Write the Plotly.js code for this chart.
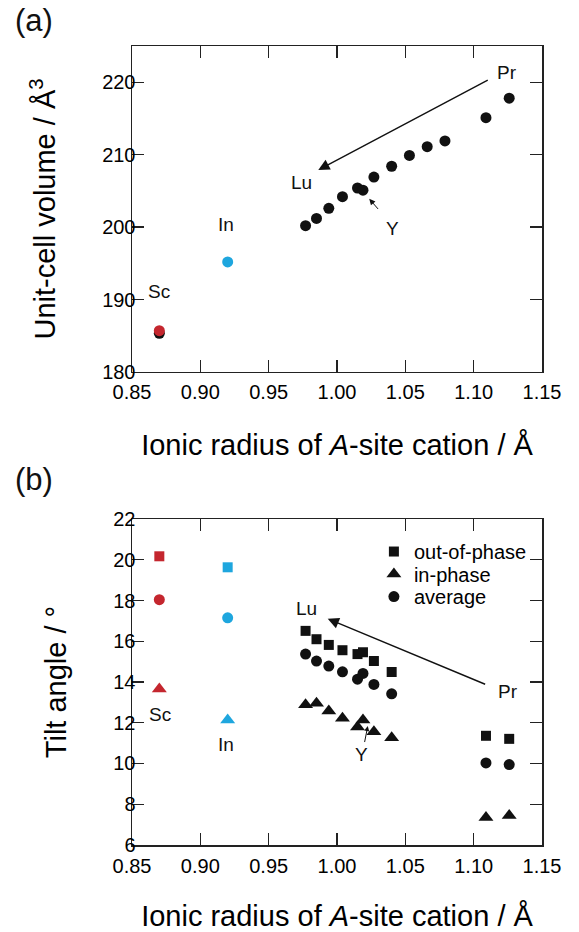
<!DOCTYPE html>
<html>
<head>
<meta charset="utf-8">
<script src="https://cdn.plot.ly/plotly-3.0.1.min.js"></script>
<style>html,body{margin:0;padding:0;background:#fff;}#chart{width:579px;height:932px;}</style>
</head>
<body>
<div id="chart"></div>
<script>
// ---------- Panel (a): unit-cell volume ----------
var lnRadiusA = [0.977, 0.985, 0.994, 1.004, 1.015, 1.019, 1.027, 1.040, 1.053, 1.066, 1.079, 1.109, 1.126];
var lnVolume  = [200.2, 201.2, 202.6, 204.2, 205.4, 205.1, 206.9, 208.4, 209.9, 211.1, 211.9, 215.1, 217.8];
var scRadius = [0.87];
var scVolumeBlack = [185.35];
var scVolumeRed = [185.7];
var inRadius = [0.92];
var inVolume = [195.2];

// ---------- Panel (b): tilt angles ----------
var lnRadiusB = [0.977, 0.985, 0.994, 1.004, 1.015, 1.019, 1.027, 1.040, 1.109, 1.126];
var outOfPhase = [16.51, 16.10, 15.82, 15.56, 15.37, 15.46, 15.03, 14.49, 11.36, 11.21];
var inPhase    = [12.88, 12.96, 12.58, 12.22, 11.79, 12.14, 11.56, 11.27, 7.35, 7.45];
var average    = [15.37, 15.03, 14.78, 14.50, 14.14, 14.42, 13.88, 13.42, 10.03, 9.95];
var scOut = [20.17], scIn = [13.66], scAvg = [18.04];
var inOut = [19.63], inIn = [12.14], inAvg = [17.15];

var xTicks = [0.85, 0.90, 0.95, 1.00, 1.05, 1.10, 1.15];
var yTicksA = [180, 190, 200, 210, 220];
var yTicksB = [6, 8, 10, 12, 14, 16, 18, 20, 22];

var BLACK = '#111111', RED = '#c4262e', BLUE = '#1ea6de';
var FONT = 'Liberation Sans, Arial, Helvetica, sans-serif';

function pt(x, y, sym, color, size, xa, ya, name, legendId) {
  var t = {x: x, y: y, mode: 'markers', type: 'scatter', xaxis: xa, yaxis: ya,
    name: name || '', showlegend: !!legendId,
    marker: {symbol: sym, color: color, size: size, line: {width: 0}},
    hoverinfo: 'x+y'};
  if (legendId) t.legend = legendId;
  return t;
}

var data = [
  pt(lnRadiusA, lnVolume, 'circle', BLACK, 11, 'x', 'y'),
  pt(scRadius, scVolumeBlack, 'circle', BLACK, 11, 'x', 'y'),
  pt(scRadius, scVolumeRed, 'circle', RED, 11, 'x', 'y'),
  pt(inRadius, inVolume, 'circle', BLUE, 11, 'x', 'y'),

  pt(lnRadiusB, outOfPhase, 'square', BLACK, 10, 'x2', 'y2', 'out-of-phase', 'legend'),
  pt(lnRadiusB, inPhase, 'triangle-up', BLACK, 13, 'x2', 'y2', 'in-phase', 'legend2'),
  pt(lnRadiusB, average, 'circle', BLACK, 11, 'x2', 'y2', 'average', 'legend3'),
  pt(scRadius, scOut, 'square', RED, 10, 'x2', 'y2'),
  pt(scRadius, scIn, 'triangle-up', RED, 13, 'x2', 'y2'),
  pt(scRadius, scAvg, 'circle', RED, 11, 'x2', 'y2'),
  pt(inRadius, inOut, 'square', BLUE, 10, 'x2', 'y2'),
  pt(inRadius, inIn, 'triangle-up', BLUE, 13, 'x2', 'y2'),
  pt(inRadius, inAvg, 'circle', BLUE, 11, 'x2', 'y2')
];

var xTitle = 'Ionic radius of <i>A</i>-site cation / Å';

function xAxis(anchor) {
  return {anchor: anchor, range: [0.85, 1.15], tickvals: xTicks, tickformat: '.2f',
    ticks: 'inside', ticklen: 12, tickwidth: 1.4, tickcolor: '#222',
    showline: true, linecolor: '#222', linewidth: 1.5, mirror: 'ticks',
    showgrid: false, zeroline: false, ticklabelstandoff: 2,
    tickfont: {family: FONT, size: 20, color: '#000'},
    title: {text: xTitle, font: {family: FONT, size: 29, color: '#000'}, standoff: 32}};
}
function yAxis(anchor, range, ticks, title, domain) {
  return {anchor: anchor, range: range, tickvals: ticks, domain: domain,
    ticks: 'inside', ticklen: 12, tickwidth: 1.4, tickcolor: '#222',
    showline: true, linecolor: '#222', linewidth: 1.5, mirror: 'ticks',
    showgrid: false, zeroline: false, ticklabelstandoff: -9,
    tickfont: {family: FONT, size: 20, color: '#000'},
    title: {text: title, font: {family: FONT, size: 29, color: '#000'}, standoff: 38}};
}

function label(text, x, y, xr, yr) {
  return {text: text, x: x, y: y, xref: xr, yref: yr, showarrow: false,
    font: {family: FONT, size: 19, color: '#111'}, xanchor: 'center', yanchor: 'middle'};
}
function arrow(hx, hy, tx, ty, xr, yr, size, width) {
  return {text: '', x: hx, y: hy, ax: tx, ay: ty, xref: xr, yref: yr, axref: xr, ayref: yr,
    showarrow: true, arrowhead: 2, arrowsize: size, arrowwidth: width, arrowcolor: '#111', standoff: 0, startstandoff: 0};
}
function legendBox(y) {
  return {x: 0.59, y: y, xanchor: 'left', yanchor: 'top', bgcolor: 'rgba(0,0,0,0)',
    font: {family: FONT, size: 20, color: '#000'}};
}

var layout = {
  width: 579, height: 932,
  margin: {l: 132, r: 37, t: 46, b: 87},
  paper_bgcolor: '#fff', plot_bgcolor: '#fff',
  font: {family: FONT, color: '#000'},
  xaxis: xAxis('y'),
  yaxis: yAxis('x', [180, 225], yTicksA, 'Unit-cell volume / Å<sup>3</sup>', [0.592, 1]),
  xaxis2: xAxis('y2'),
  yaxis2: yAxis('x2', [6, 22], yTicksB, 'Tilt angle / °', [0, 0.408]),
  showlegend: true,
  legend: legendBox(0.3917),
  legend2: legendBox(0.3636),
  legend3: legendBox(0.3354),
  annotations: [
    {text: '(a)', x: -0.239, y: 1.0325, xref: 'paper', yref: 'paper', showarrow: false,
      font: {family: FONT, size: 31, color: '#111'}, xanchor: 'center', yanchor: 'middle'},
    {text: '(b)', x: -0.239, y: 0.457, xref: 'paper', yref: 'paper', showarrow: false,
      font: {family: FONT, size: 31, color: '#111'}, xanchor: 'center', yanchor: 'middle'},
    label('Pr', 1.1242, 221.4, 'x', 'y'),
    label('Lu', 0.9739, 206.2, 'x', 'y'),
    label('Y', 1.0408, 199.8, 'x', 'y'),
    label('In', 0.9188, 200.4, 'x', 'y'),
    label('Sc', 0.870, 191.1, 'x', 'y'),
    arrow(0.9863, 207.9, 1.1114, 220.4, 'x', 'y', 1.6, 1.4),
    arrow(1.0236, 203.9, 1.031, 202.3, 'x', 'y', 1.2, 1),
    label('Lu', 0.9778, 17.63, 'x2', 'y2'),
    label('Pr', 1.1254, 13.51, 'x2', 'y2'),
    label('Sc', 0.8705, 12.41, 'x2', 'y2'),
    label('In', 0.9188, 10.93, 'x2', 'y2'),
    label('Y', 1.018, 10.44, 'x2', 'y2'),
    arrow(0.9932, 17.10, 1.1095, 13.86, 'x2', 'y2', 1.6, 1.4),
    arrow(1.0225, 11.84, 1.02, 10.98, 'x2', 'y2', 1.0, 1)
  ]
};

Plotly.newPlot('chart', data, layout, {displayModeBar: false, staticPlot: true});
</script>
</body>
</html>
